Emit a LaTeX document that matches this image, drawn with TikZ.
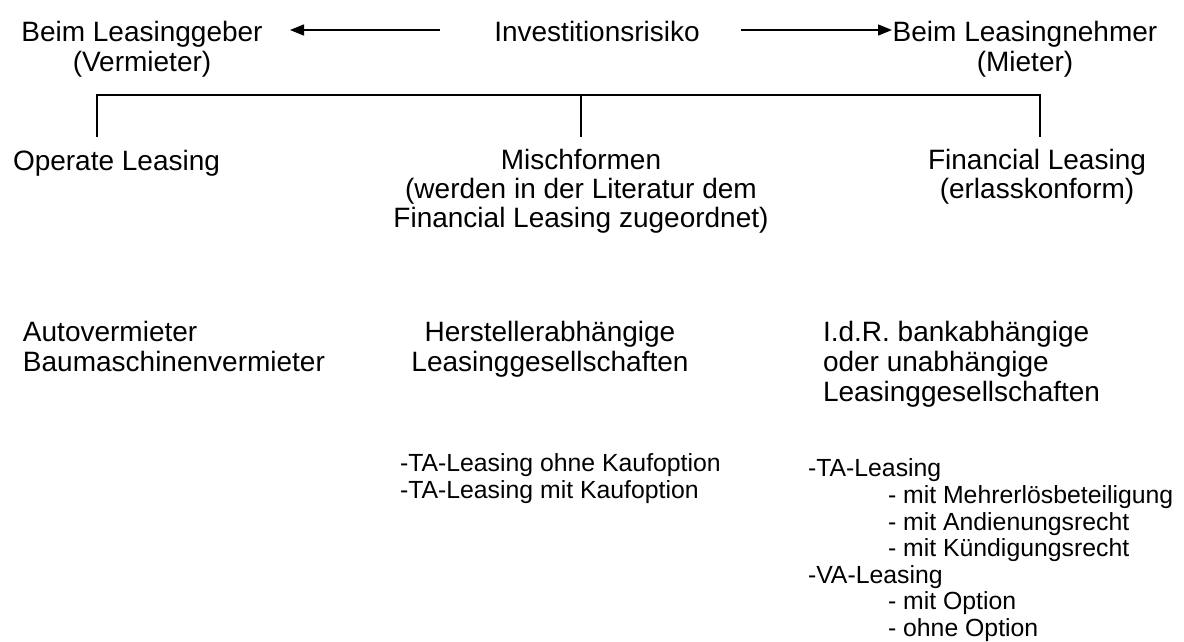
\documentclass[tikz,border=0pt]{standalone}
\usepackage{fontspec}
\setmainfont{Liberation Sans}
\usetikzlibrary{arrows.meta}

\tikzset{
  txt/.style={font=\fontsize{28}{30}\selectfont, inner sep=0pt, outer sep=0pt},
  listtxt/.style={font=\fontsize{24.8}{26.6}\selectfont, inner sep=0pt, outer sep=0pt, align=left},
  riskarrow/.style={line width=1.4pt, -{Triangle[length=14pt,width=11pt]}},
  bracketline/.style={line width=1.4pt}
}
\newcommand{\listeinzug}{\hspace*{80pt}}

\begin{document}
\begin{tikzpicture}[x=1pt,y=-1pt]
  \useasboundingbox (0,0) rectangle (1184,642);

  % Investitionsrisiko
  \node[txt, anchor=north, align=center] (geber) at (142,21.6) {Beim Leasinggeber\\(Vermieter)};
  \node[txt, anchor=base] (risiko) at (597,42) {Investitionsrisiko};
  \node[txt, anchor=north, align=center] (nehmer) at (1025,21.6) {Beim Leasingnehmer\\(Mieter)};
  \coordinate (la) at (440,30);
  \coordinate (lt) at (290,30);
  \coordinate (ra) at (741,30);
  \coordinate (rt) at (892,30);
  \draw[riskarrow] (la) -- (lt);
  \draw[riskarrow] (ra) -- (rt);

  % Klammer
  \coordinate (kl) at (97,95);
  \coordinate (km) at (581,95);
  \coordinate (kr) at (1040,95);
  \draw[bracketline] (kl) ++(0,42) -- (kl) -- (kr) -- ++(0,42);
  \draw[bracketline] (km) -- ++(0,42);

  % Formen
  \node[txt, anchor=base west] (operate) at (13,170) {Operate Leasing};
  \node[txt, anchor=north, align=center, font=\fontsize{28}{29}\selectfont] (misch) at (581,149.6) {Mischformen\\(werden in der Literatur dem\\Financial Leasing zugeordnet)};
  \node[txt, anchor=north, align=center, font=\fontsize{28}{29}\selectfont] (financial) at (1037,149.6) {Financial Leasing\\(erlasskonform)};

  % Anbieter
  \node[txt, anchor=north west, align=left] (auto) at (23,321.6) {Autovermieter\\Baumaschinenvermieter};
  \node[txt, anchor=north, align=center] (hersteller) at (550,321.6) {Herstellerabh\"angige\\Leasinggesellschaften};
  \node[txt, anchor=north west, align=left] (bank) at (823,321.6) {I.d.R. bankabh\"angige\\oder unabh\"angige\\Leasinggesellschaften};

  % Vertragsformen
  \node[listtxt, anchor=north west] (tamisch) at (400,453.9) {-TA-Leasing ohne Kaufoption\\-TA-Leasing mit Kaufoption};
  \node[listtxt, anchor=north west] (vertrag) at (808,458.9) {-TA-Leasing\\\listeinzug- mit Mehrerl\"osbeteiligung\\\listeinzug- mit Andienungsrecht\\\listeinzug- mit K\"undigungsrecht\\-VA-Leasing\\\listeinzug- mit Option\\\listeinzug- ohne Option};
\end{tikzpicture}
\end{document}
